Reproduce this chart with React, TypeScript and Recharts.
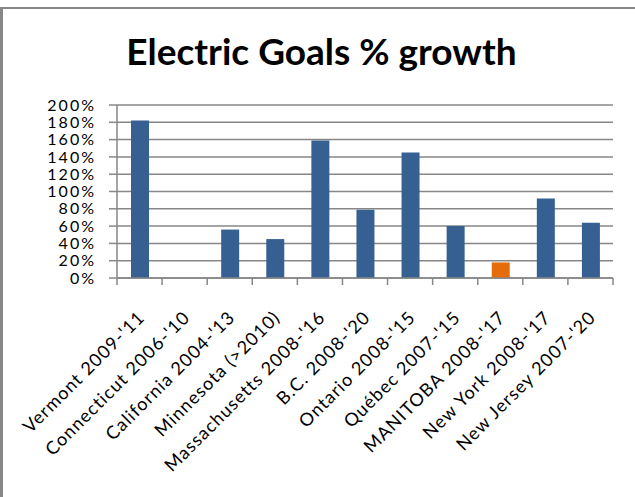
import React from "react";
import { Bar, BarChart, CartesianGrid, Cell, XAxis, YAxis } from "recharts";

const categories = [
  "Vermont 2009-'11",
  "Connecticut 2006-'10",
  "California 2004-'13",
  "Minnesota (>2010)",
  "Massachusetts 2008-'16",
  "B.C. 2008-'20",
  "Ontario 2008-'15",
  "Québec 2007-'15",
  "MANITOBA 2008-'17",
  "New York 2008-'17",
  "New Jersey 2007-'20",
];
const growth = [182, 0, 56, 45, 159, 79, 145, 60, 18, 92, 64];
const yTicks = [0, 20, 40, 60, 80, 100, 120, 140, 160, 180, 200];
const highlight = "MANITOBA 2008-'17";

const data = categories.map((name, i) => ({ name, growth: growth[i] }));

const GRID = "#878787";
const FONT = "Lato, 'Open Sans', sans-serif";

function CategoryTick(props: any) {
  const { x, y, payload, index, width, visibleTicksCount } = props;
  const band = (width || 496) / (visibleTicksCount || categories.length);
  return (
    <g>
      {index === 0 && (
        <line x1={x - band / 2} x2={x - band / 2} y1={y} y2={y + 7} stroke={GRID} strokeWidth={1.5} />
      )}
      <line x1={x + band / 2} x2={x + band / 2} y1={y} y2={y + 7} stroke={GRID} strokeWidth={1.5} />
      <text
        transform={`translate(${x + 2},${y + 36}) rotate(-45)`}
        textAnchor="end"
        dy="0.35em"
        fontSize={18}
        letterSpacing={1.1}
        fontFamily={FONT}
        fill="#000"
      >
        {payload.value}
      </text>
    </g>
  );
}

export default function App() {
  return (
    <div style={{ position: "absolute", left: 0, top: 0, width: 635, height: 497, background: "#fff" }}>
      <div
        style={{
          position: "absolute",
          left: 0,
          top: 7,
          width: 632,
          height: 490,
          borderTop: `2px solid ${GRID}`,
          borderLeft: `3px solid ${GRID}`,
        }}
      />
      <div
        style={{
          position: "absolute",
          left: 0,
          top: 29,
          width: 643,
          textAlign: "center",
          fontFamily: FONT,
          fontWeight: 700,
          fontSize: 37,
          lineHeight: "44px",
          color: "#000",
        }}
      >
        Electric Goals % growth
      </div>
      <BarChart
        width={635}
        height={497}
        data={data}
        margin={{ top: 105, right: 22, left: 0, bottom: 0 }}
        barSize={18}
        style={{ position: "absolute", left: 0, top: 0 }}
      >
        <CartesianGrid vertical={false} stroke={GRID} strokeWidth={1.5} />
        <YAxis
          width={117}
          domain={[0, 200]}
          ticks={yTicks}
          interval={0}
          tickFormatter={(v) => `${v}%`}
          tickSize={8}
          tickMargin={13}
          tickLine={{ stroke: GRID, strokeWidth: 1.5 }}
          axisLine={{ stroke: GRID, strokeWidth: 1.5 }}
          tick={{ fill: "#000", fontSize: 16, letterSpacing: 2, fontFamily: FONT }}
        />
        <XAxis
          dataKey="name"
          height={219}
          interval={0}
          tickLine={false}
          tickSize={0}
          tickMargin={0}
          axisLine={{ stroke: GRID, strokeWidth: 1.5 }}
          tick={<CategoryTick />}
        />
        <Bar dataKey="growth" isAnimationActive={false}>
          {data.map((d) => (
            <Cell key={d.name} fill={d.name === highlight ? "#E46C0A" : "#376092"} />
          ))}
        </Bar>
      </BarChart>
    </div>
  );
}
